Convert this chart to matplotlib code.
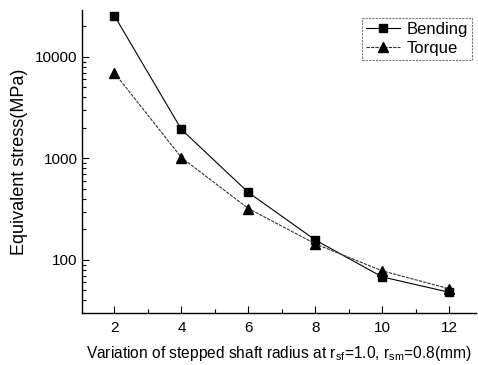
import matplotlib
matplotlib.use("Agg")
import matplotlib.pyplot as plt
from matplotlib.ticker import LogLocator, FixedLocator, NullFormatter

plt.rcParams['font.family'] = ['Liberation Sans', 'DejaVu Sans']
plt.rcParams['mathtext.fontset'] = 'custom'
plt.rcParams['mathtext.rm'] = 'Liberation Sans'
plt.rcParams['mathtext.it'] = 'Liberation Sans'

radius = [2, 4, 6, 8, 10, 12]
bending = [25400, 1930, 462, 157, 68, 48]
torque = [6950, 1020, 321, 144, 78, 52]
xticks = [2, 4, 6, 8, 10, 12]

fig = plt.figure(figsize=(4.78, 3.65), dpi=100)
ax = fig.add_axes([82/478, 1-313/365, (476-82)/478, (313-10)/365])

ax.plot(radius, bending, color='black', lw=0.8, marker='s', ms=6, label='Bending')
ax.plot(radius, torque, color='#333333', lw=0.8, ls=(0, (3, 1)), marker='^', ms=6.5,
        markerfacecolor='black', markeredgecolor='black', label='Torque')

ax.set_yscale('log')
ax.set_ylim(30, 29000)
ax.set_xlim(1.03, 12.8)
ax.set_xticks(xticks)
ax.xaxis.set_minor_locator(FixedLocator([3, 5, 7, 9, 11]))
ax.set_yticks([100, 1000, 10000])
ax.set_yticklabels(['100', '1000', '10000'])
ax.yaxis.set_minor_locator(LogLocator(base=10, subs=range(2, 10)))
ax.yaxis.set_minor_formatter(NullFormatter())

ax.tick_params(which='both', direction='in', labelsize=11, width=0.8)
ax.tick_params(which='major', length=5)
ax.tick_params(which='minor', length=3)
ax.tick_params(axis='x', pad=6)
ax.tick_params(axis='y', pad=3)

ax.spines['top'].set_visible(False)
ax.spines['right'].set_visible(False)
ax.spines['left'].set_linewidth(1.0)
ax.spines['bottom'].set_linewidth(1.0)

ax.set_ylabel('Equivalent stress(MPa)', fontsize=13, labelpad=5)
ax.set_xlabel(r'Variation of stepped shaft radius at r$_{sf}$=1.0, r$_{sm}$=0.8(mm)',
              fontsize=11.2, labelpad=6)

leg = ax.legend(loc='upper right', bbox_to_anchor=(0.998, 0.985), fontsize=12,
                frameon=True, fancybox=False, handlelength=2.0, handletextpad=0.4,
                borderpad=0.25, labelspacing=0.25, borderaxespad=0.2)
leg.get_frame().set_edgecolor('#555555')
leg.get_frame().set_linewidth(0.8)
leg.get_frame().set_linestyle((0, (2, 1)))

fig.savefig('out.png', dpi=100)
